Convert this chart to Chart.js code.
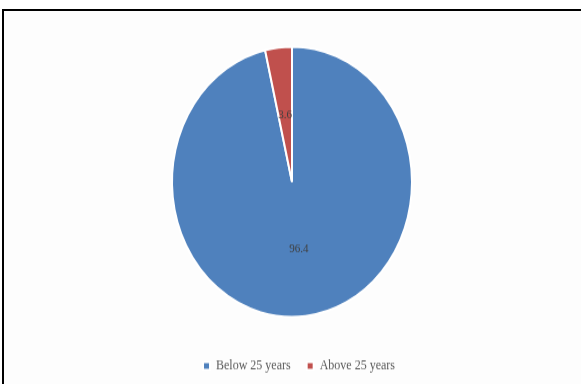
<!DOCTYPE html>
<html>
<head>
<meta charset="utf-8">
<script src="https://cdn.jsdelivr.net/npm/chart.js@4"></script>
<style>
  html, body { margin: 0; width: 581px; height: 384px; overflow: hidden; background: #fff; }
  #frame { position: absolute; left: 2px; top: 9px; width: 577px; height: 373px;
           border-left: 2px solid #000; border-top: 2px solid #000; background: #fdfdfd; }
  #pieChart { position: absolute; left: 0; top: 0; transform-origin: 0 0; transform: scaleY(1.126); }
</style>
</head>
<body>
<div id="frame"></div>
<canvas id="pieChart" width="581" height="341"></canvas>
<script>
const categories = ['Below 25 years', 'Above 25 years'];
const shares = [96.4, 3.6];
const sliceColours = ['#4F81BD', '#C0504D'];

// value labels in the middle of each slice
const sliceLabels = {
    id: 'sliceLabels',
    afterDatasetsDraw(chart) {
        const c = chart.ctx;
        const meta = chart.getDatasetMeta(0);
        c.save();
        c.font = '11px "Liberation Serif"';
        c.fillStyle = '#404040';
        c.textAlign = 'center';
        c.textBaseline = 'middle';
        meta.data.forEach((arc, i) => {
            const p = arc.tooltipPosition();
            c.fillText(shares[i].toFixed(1), p.x, p.y);
        });
        c.restore();
    }
};

// the legend sits a little right of the pie centre in the original
const nudgeLegend = {
    id: 'nudgeLegend',
    afterLayout(chart) {
        chart.legend.left += 7;
        chart.legend.right += 7;
    }
};

const ctx = document.getElementById('pieChart').getContext('2d');
new Chart(ctx, {
    type: 'pie',
    data: {
        labels: categories,
        datasets: [{
            data: shares,
            backgroundColor: sliceColours,
            borderColor: '#ffffff',
            borderWidth: 2
        }]
    },
    options: {
        responsive: false,
        animation: false,
        layout: {
            padding: { left: 171, right: 168, top: 20, bottom: 0 }
        },
        plugins: {
            legend: {
                position: 'bottom',
                labels: {
                    boxWidth: 7,
                    boxHeight: 7,
                    padding: 16,
                    color: '#595959',
                    font: { family: 'Liberation Serif', size: 12 }
                }
            },
            tooltip: { enabled: false }
        }
    },
    plugins: [sliceLabels, nudgeLegend]
});
</script>
</body>
</html>
